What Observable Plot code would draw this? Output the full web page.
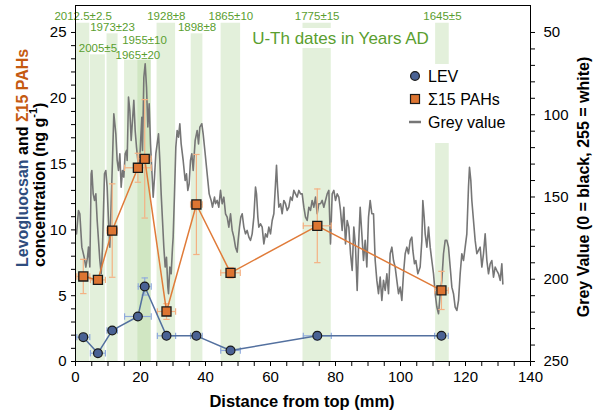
<!DOCTYPE html>
<html><head><meta charset="utf-8">
<script src="https://cdn.jsdelivr.net/npm/d3@7"></script>
<script src="https://cdn.jsdelivr.net/npm/@observablehq/plot@0.6"></script>
<style>body{margin:0;background:#fff;} svg{display:block;}</style>
</head><body><div id="chart"></div>
<script>
// ---- data ----
const sampleDist = [2.4, 6.9, 11.3, 19.2, 21.3, 28.0, 37.2, 47.7, 74.4, 112.6];
const distErr    = [2.0, 2.3, 1.6, 4.1, 2.0, 2.8, 1.8, 3.0, 4.3, 2.1];
const levValues  = [1.85, 0.63, 2.36, 3.42, 5.7, 1.95, 1.95, 0.84, 1.95, 1.95];
const levErr     = [0, 0, 0, 0, 0.65, 0, 0, 0, 0.3, 0];
const pahValues  = [6.46, 6.2, 9.95, 14.72, 15.4, 3.8, 11.93, 6.74, 10.31, 5.4];
const pahErr     = [1.3, 0.3, 3.55, 1.1, 4.5, 0.6, 3.8, 0.4, 2.8, 1.45];

const bandStart = [0.3, 4.6, 9.7, 15.1, 19.2, 25.1, 35.6, 44.8, 70.0, 110.8];
const bandEnd   = [4.4, 9.2, 13.1, 23.3, 23.3, 30.8, 39.2, 50.8, 78.7, 115.0];
const bandLabel = ["2012.5±2.5", "2005±5", "1973±23", "1965±20", "1955±10", "1928±8", "1898±8", "1865±10", "1775±15", "1645±5"];
const bandTop   = [25.7, 23.3, 24.9, 22.9, 22.9, 25.7, 24.9, 25.7, 25.7, 25.7];
const labelLevel= [26.2, 23.8, 25.4, 23.3, 24.4, 26.2, 25.4, 26.2, 26.2, 26.2];

const greyDist = [
0.31,0.92,1.33,1.95,2.67,3.18,3.69,4.0,4.41,4.82,
5.03,5.44,5.85,6.26,6.67,7.08,7.49,7.9,8.31,8.92,
9.33,9.74,10.15,10.56,10.97,11.38,11.79,12.21,12.41,12.82,
13.23,13.64,14.05,14.46,14.87,15.28,15.69,15.9,16.31,16.72,
17.13,17.54,17.95,18.36,18.77,19.18,19.59,20.0,20.41,20.62,
21.03,21.44,21.85,22.26,22.67,23.08,23.49,23.9,24.31,24.72,
25.13,25.54,25.95,26.36,26.77,27.18,27.59,28.0,28.41,28.62,
29.03,29.44,29.85,30.05,30.46,30.87,31.28,31.69,32.1,32.51,
33.13,33.74,34.15,34.56,34.97,35.38,35.79,36.21,36.82,37.44,
37.85,38.26,38.87,39.28,39.9,40.31,41.13,41.74,42.15,42.77,
43.08,43.59,44.1,44.62,45.13,45.64,46.16,46.67,47.18,47.7,
48.21,48.72,49.23,49.75,50.05,50.46,50.87,51.29,51.8,52.31,
52.82,53.34,53.85,54.36,54.87,55.39,55.7,56.11,56.41,56.93,
57.44,57.95,58.46,58.98,59.49,60.0,60.52,61.03,61.54,61.85,
62.16,62.57,63.08,63.59,64.11,64.62,65.13,65.64,66.16,66.67,
67.18,67.7,68.21,68.72,69.23,69.75,70.26,70.77,71.29,71.8,
72.31,72.82,73.34,73.85,74.36,74.87,75.39,75.9,76.41,76.93,
77.44,77.95,78.46,78.98,79.49,80.0,80.52,81.03,81.54,82.05,
82.57,83.08,83.59,84.1,84.62,85.13,85.64,86.16,86.67,
87.08,87.59,88.1,88.62,89.13,89.64,90.16,90.67,91.18,91.7,
92.21,92.72,93.23,93.75,94.26,94.77,95.29,95.8,96.31,96.82,
97.34,97.85,98.36,98.87,99.39,99.9,100.41,100.92,101.44,101.95,
102.46,102.98,103.49,103.8,104.31,104.72,105.34,106.05,106.57,106.87,
107.28,107.59,108.11,108.62,109.13,109.64,110.16,110.67,111.18,111.7,
112.21,112.72,113.23,113.75,114.26,114.77,115.29,115.8,116.31,116.82,
117.34,117.85,118.36,118.87,119.39,119.9,120.41,120.92,121.23,121.64,
121.95,122.46,122.97,123.49,124.0,124.51,125.03,125.54,126.05,126.57,
127.08,127.59,128.1,128.62,129.13,129.64,130.16,130.67,131.18,131.49];
const greyValue = [
172.4,158.2,160.2,180.5,186.6,192.6,186.6,180.5,192.6,135.9,
133.9,148.1,152.1,148.1,164.3,176.4,188.6,196.7,180.5,135.9,
133.9,144.0,164.3,180.5,154.1,127.8,99.4,107.5,111.6,127.8,
133.9,123.7,144.0,133.9,137.9,123.7,121.7,127.8,89.3,97.4,
115.6,103.5,91.3,109.6,119.7,127.8,133.9,117.7,101.5,121.7,
77.2,69.0,83.2,107.5,93.4,117.7,133.9,150.1,137.9,123.7,
117.7,111.6,127.8,148.1,164.3,180.5,192.6,186.6,204.8,208.8,
192.6,196.7,180.5,174.4,148.1,119.7,109.6,113.6,105.5,117.7,
127.8,140.0,135.9,146.0,142.0,127.8,123.7,133.9,115.6,109.6,
117.7,107.5,105.5,111.6,123.7,131.9,148.1,152.1,156.2,150.1,
154.1,152.1,156.2,146.0,154.1,150.1,160.2,162.2,168.3,160.2,
170.3,174.4,180.5,183.5,176.4,168.3,162.2,160.2,168.3,172.4,
170.3,174.4,176.4,172.4,162.2,144.0,148.1,162.2,168.3,166.3,
168.3,178.5,172.4,174.4,168.3,172.4,164.3,160.2,142.0,130.8,
144.0,156.2,154.1,160.2,152.1,154.1,158.2,156.2,150.1,152.1,
146.0,148.1,150.1,146.0,148.1,148.1,156.2,162.2,164.3,156.2,
158.2,152.1,156.2,150.1,160.2,154.1,154.1,152.1,156.2,152.1,
148.1,146.0,178.5,148.1,146.0,152.1,148.1,150.1,158.2,170.3,
156.2,178.5,164.3,168.3,184.5,194.7,168.3,180.5,206.8,
180.5,156.2,172.4,188.6,176.4,192.6,162.2,152.1,160.2,160.2,
188.6,200.7,208.8,198.7,212.9,200.7,206.8,196.7,208.8,184.5,
180.5,188.6,192.6,200.7,208.8,204.8,212.9,196.7,184.5,180.5,
184.5,176.4,174.4,182.5,190.6,188.6,196.7,192.6,176.4,152.1,
162.2,172.4,180.5,168.3,180.5,188.6,196.7,208.8,216.9,221.0,
208.8,200.7,184.5,176.4,176.4,180.5,192.6,204.8,208.8,216.9,
219.0,212.9,196.7,184.5,188.6,180.5,172.4,144.0,131.9,140.0,
152.1,164.3,176.4,184.5,182.5,180.5,192.6,184.5,172.4,188.6,
196.7,190.6,188.6,198.7,192.6,194.7,196.7,200.7,190.6,202.8];

// ---- styling ----
const FONT = "'Liberation Sans', Arial, Helvetica, sans-serif";
const GREEN = "#5a9e2f";
const BAND = "#a9d18e";
const LEV_FILL = "#4a6294", LEV_LINE = "#53709f", LEV_ERR = "#8faadc";
const PAH_FILL = "#dd7532", PAH_LINE = "#e07b39", PAH_ERR = "#f4b183";
const GREY = "#767676";

// grey value axis (right) is linked to left axis: G = 250 - 8 L
const toL = g => (250 - g) / 8;

const grey = greyDist.map((d, i) => ({x: d, y: toL(greyValue[i])}));
const samples = sampleDist.map((d, i) => ({x: d, xe: distErr[i], lev: levValues[i], levE: levErr[i], pah: pahValues[i], pahE: pahErr[i]}));
const bands = bandStart.map((s, i) => ({x1: s, x2: bandEnd[i], top: bandTop[i], label: bandLabel[i], ly: labelLevel[i]}));

const hcap = {draw(ctx, size) { const r = Math.sqrt(size / Math.PI); ctx.moveTo(-r, 0); ctx.lineTo(r, 0); }};
const vcap = {draw(ctx, size) { const r = Math.sqrt(size / Math.PI); ctx.moveTo(0, -r); ctx.lineTo(0, r); }};

function errMarks(data, key, eKey, color) {
  const v = data.filter(d => d[eKey] > 0);
  return [
    Plot.ruleX(v, {x: "x", y1: d => d[key] - d[eKey], y2: d => d[key] + d[eKey], stroke: color, strokeWidth: 1.2}),
    Plot.dot(v, {x: "x", y: d => d[key] - d[eKey], symbol: hcap, r: 3.2, stroke: color, strokeWidth: 1.2, fill: "none"}),
    Plot.dot(v, {x: "x", y: d => d[key] + d[eKey], symbol: hcap, r: 3.2, stroke: color, strokeWidth: 1.2, fill: "none"}),
    Plot.ruleY(data, {y: key, x1: d => d.x - d.xe, x2: d => d.x + d.xe, stroke: color, strokeWidth: 1.2}),
    Plot.dot(data, {x: d => d.x - d.xe, y: key, symbol: vcap, r: 3.2, stroke: color, strokeWidth: 1.2, fill: "none"}),
    Plot.dot(data, {x: d => d.x + d.xe, y: key, symbol: vcap, r: 3.2, stroke: color, strokeWidth: 1.2, fill: "none"})
  ];
}

const plot = Plot.plot({
  width: 600, height: 419,
  marginLeft: 75, marginRight: 70, marginTop: 5, marginBottom: 58,
  style: {fontFamily: FONT, fontSize: "15px", background: "#fff", color: "#000"},
  x: {domain: [0, 140]},
  y: {domain: [0, 27.05]},
  marks: [
    Plot.rect(bands, {x1: "x1", x2: "x2", y1: 0, y2: "top", fill: BAND, fillOpacity: 0.32}),
    Plot.text(bands, {x: d => (d.x1 + d.x2) / 2, y: "ly", text: "label", fill: GREEN, fontSize: 11.5}),
    Plot.line(grey, {x: "x", y: "y", stroke: GREY, strokeWidth: 1.6}),
    ...errMarks(samples, "pah", "pahE", PAH_ERR),
    Plot.line(samples, {x: "x", y: "pah", stroke: PAH_LINE, strokeWidth: 1.5}),
    ...errMarks(samples, "lev", "levE", LEV_ERR),
    Plot.line(samples, {x: "x", y: "lev", stroke: LEV_LINE, strokeWidth: 1.5}),
    Plot.dot(samples, {x: "x", y: "pah", symbol: "square", r: 5.1, fill: PAH_FILL, stroke: "#1a1a1a", strokeWidth: 1.3}),
    Plot.dot(samples, {x: "x", y: "lev", r: 4.4, fill: LEV_FILL, stroke: "#1a1a1a", strokeWidth: 1.2}),
    Plot.frame({stroke: "#000"}),
    Plot.axisX({ticks: d3.range(0, 141, 5), tickFormat: d => d % 20 === 0 ? String(d) : "", tickSize: 5, tickPadding: 5, label: null, fontSize: 15}),
    Plot.axisY({anchor: "left", ticks: d3.range(0, 26, 1), tickFormat: d => d % 5 === 0 ? String(d) : "", tickSize: 4, tickPadding: 5, label: null, fontSize: 15}),
    Plot.axisY({anchor: "right", ticks: d3.range(50, 251, 10).map(toL),
      tickFormat: d => { const g = Math.round(250 - 8 * d); return g % 50 === 0 ? String(g) : ""; },
      tickSize: 4, tickPadding: 9, label: null, fontSize: 15})
  ]
});

document.getElementById("chart").appendChild(plot);

// ---- annotations, titles, legend ----
const svg = d3.select(plot);
const ns = svg.append("g").attr("font-family", FONT).attr("text-anchor", "start");

// U-Th annotation with white backing
ns.append("rect").attr("x", 256).attr("y", 28).attr("width", 170).attr("height", 20).attr("fill", "#fff");
ns.append("text").attr("x", 340.5).attr("y", 38).attr("text-anchor", "middle").attr("dominant-baseline", "central")
  .attr("font-size", 17).attr("fill", GREEN).text("U-Th dates in Years AD");

// legend
const lg = ns.append("g");
lg.append("rect").attr("x", 402).attr("y", 64).attr("width", 112).attr("height", 79).attr("fill", "#fff");
lg.append("circle").attr("cx", 415).attr("cy", 76).attr("r", 4.4).attr("fill", LEV_FILL).attr("stroke", "#1a1a1a").attr("stroke-width", 1.2);
lg.append("rect").attr("x", 410.5).attr("y", 94.5).attr("width", 9).attr("height", 9).attr("fill", PAH_FILL).attr("stroke", "#1a1a1a").attr("stroke-width", 1.2);
lg.append("line").attr("x1", 409).attr("x2", 421).attr("y1", 122).attr("y2", 122).attr("stroke", GREY).attr("stroke-width", 2.5);
const legTexts = ["LEV", "Σ15 PAHs", "Grey value"];
[76, 99, 122].forEach((y, i) => lg.append("text").attr("x", 428).attr("y", y).attr("text-anchor", "start").attr("dominant-baseline", "central")
  .attr("font-size", 16).attr("fill", "#000").text(legTexts[i]));

// x title
ns.append("text").attr("x", 302).attr("y", 401).attr("text-anchor", "middle").attr("dominant-baseline", "central")
  .attr("font-size", 16.5).attr("font-weight", "bold").text("Distance from top (mm)");

// right title
ns.append("text").attr("transform", "translate(583,187) rotate(-90)").attr("text-anchor", "middle").attr("dominant-baseline", "central")
  .attr("font-size", 16).attr("font-weight", "bold").text("Grey Value (0 = black, 255 = white)");

// left title, two lines
const t1 = ns.append("text").attr("transform", "translate(22,267) rotate(-90)").attr("text-anchor", "start").attr("dominant-baseline", "central")
  .attr("font-size", 16).attr("font-weight", "bold");
t1.append("tspan").attr("fill", "#2f4d7e").text("Levogluocsan");
t1.append("tspan").attr("fill", "#000").text(" and ");
t1.append("tspan").attr("fill", "#c55a11").text("Σ15 PAHs");
const t2 = ns.append("text").attr("transform", "translate(38.5,267) rotate(-90)").attr("text-anchor", "start").attr("dominant-baseline", "central")
  .attr("font-size", 16).attr("font-weight", "bold").attr("fill", "#000");
t2.append("tspan").text("concentration (ng g");
t2.append("tspan").attr("font-size", 11).attr("dy", -6).text("-1");
t2.append("tspan").attr("dy", 6).text(")");
</script>
</body></html>
